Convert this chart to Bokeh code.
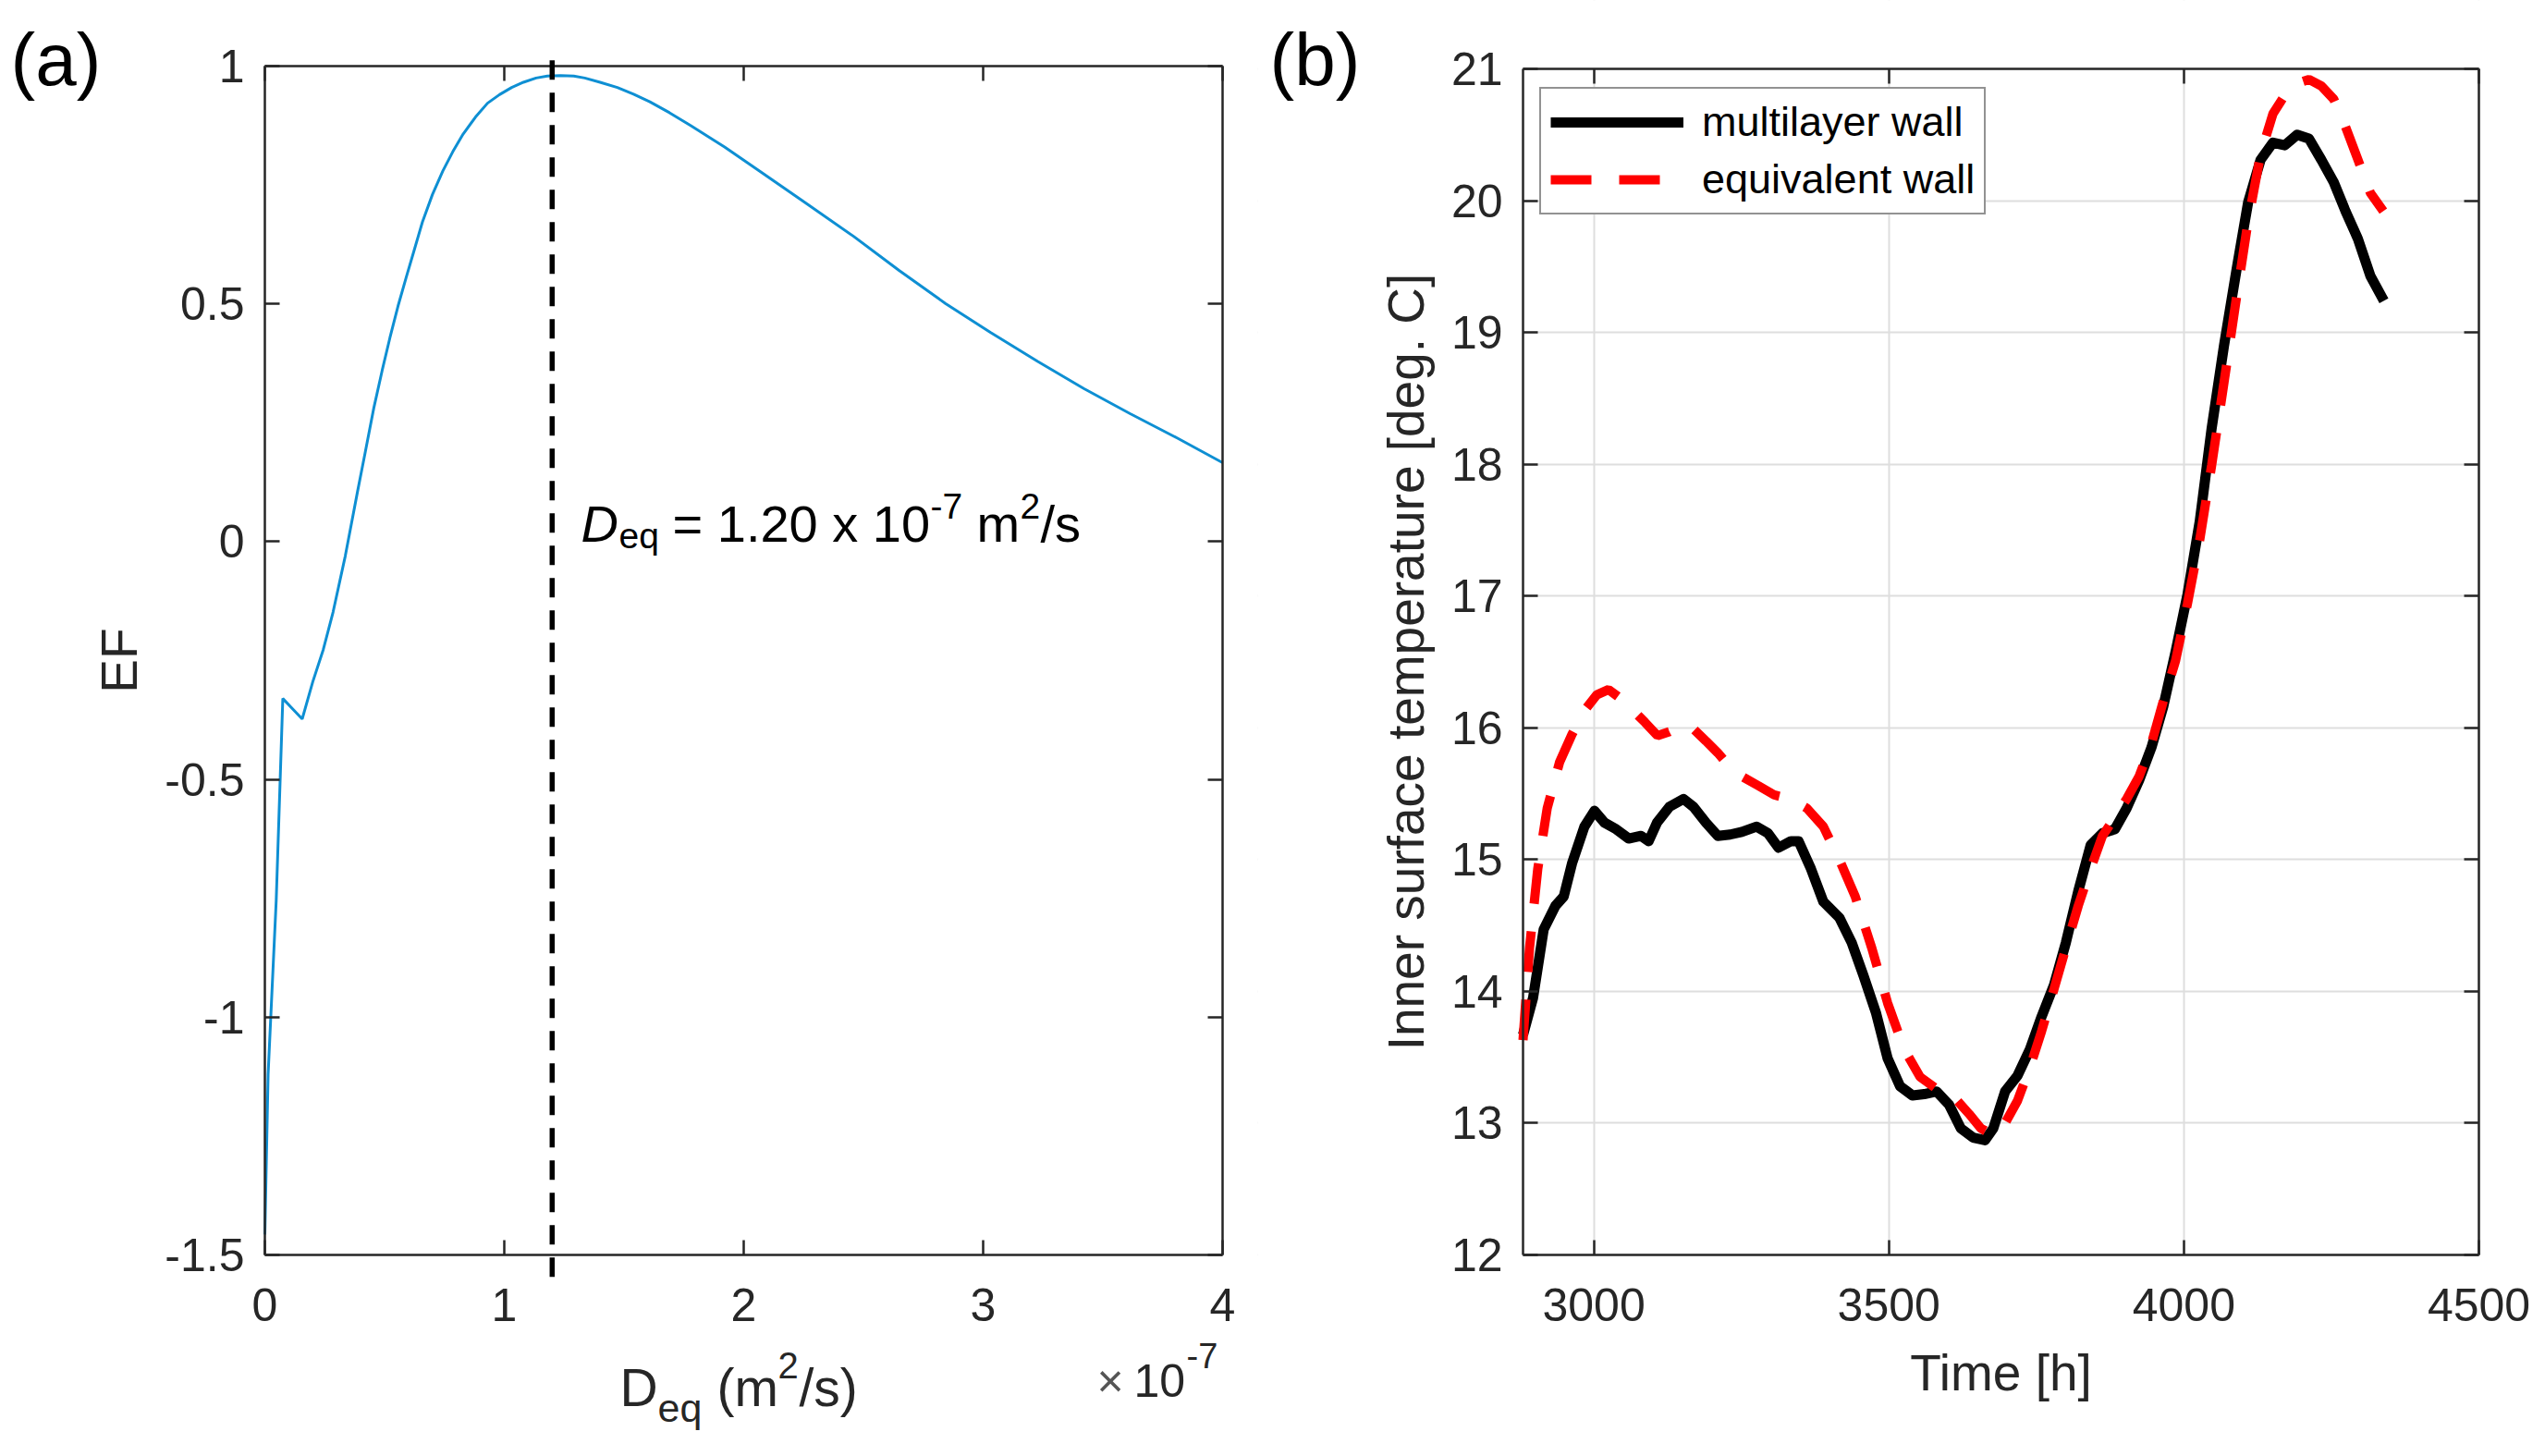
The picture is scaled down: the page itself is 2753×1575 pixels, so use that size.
from bokeh.plotting import figure
from bokeh.layouts import row
from bokeh.models import (FixedTicker, LinearAxis, Label, Arrow, Legend, LegendItem,
                          Range1d, CustomJSTickFormatter, BoxAnnotation)
from bokeh.embed import file_html
from bokeh.resources import INLINE

FONT = "Liberation Sans"
AX = "#262626"

# ---------------- data: panel (a) ----------------
deq_scale_label = "-7"          # x values are in units of 1e-7 m2/s
deq = [0.0, 0.0136, 0.0475, 0.075, 0.156, 0.2, 0.244, 0.285, 0.336, 0.387, 0.42, 0.455,
       0.49, 0.522, 0.556, 0.59, 0.625, 0.658, 0.70, 0.743, 0.785, 0.828, 0.88, 0.93,
       0.98, 1.031, 1.08, 1.133, 1.18, 1.235, 1.29, 1.336, 1.40, 1.472, 1.54, 1.608,
       1.69, 1.778, 1.92, 2.07, 2.25, 2.456, 2.65, 2.842, 3.03, 3.228, 3.42, 3.614,
       3.81, 4.0]
ef = [-1.457, -1.12, -0.754, -0.33, -0.373, -0.295, -0.227, -0.148, -0.03, 0.105, 0.19,
      0.281, 0.36, 0.428, 0.495, 0.555, 0.615, 0.672, 0.73, 0.779, 0.82, 0.857, 0.893,
      0.922, 0.94, 0.955, 0.966, 0.975, 0.979, 0.98, 0.979, 0.975, 0.966, 0.955, 0.941,
      0.925, 0.902, 0.875, 0.83, 0.778, 0.715, 0.643, 0.57, 0.501, 0.44, 0.379, 0.322,
      0.269, 0.218, 0.166]
deq_opt = 1.20
a_xlim = (0, 4)
a_ylim = (-1.5, 1)
a_xticks = [0, 1, 2, 3, 4]
a_yticks = [-1.5, -1, -0.5, 0, 0.5, 1]

# ---------------- data: panel (b) ----------------
time_ml = [2880, 2897, 2915, 2935, 2949, 2963, 2984, 3001, 3018, 3038, 3059, 3080, 3093,
           3107, 3128, 3152, 3169, 3190, 3210, 3231, 3251, 3276, 3295, 3313, 3334, 3347,
           3368, 3389, 3416, 3437, 3457, 3478, 3498, 3519, 3540, 3560, 3581, 3602, 3622,
           3643, 3663, 3677, 3697, 3718, 3739, 3759, 3780, 3800, 3821, 3842, 3862, 3883,
           3903, 3924, 3945, 3965, 3986, 4006, 4027, 4047, 4068, 4089, 4109, 4130, 4151,
           4171, 4192, 4212, 4233, 4254, 4274, 4295, 4316, 4339]
temp_ml = [13.67, 13.95, 14.47, 14.65, 14.72, 14.97, 15.25, 15.37, 15.28, 15.23, 15.16,
           15.18, 15.14, 15.28, 15.40, 15.46, 15.40, 15.28, 15.18, 15.19, 15.21, 15.25,
           15.20, 15.09, 15.14, 15.14, 14.93, 14.68, 14.56, 14.37, 14.12, 13.84, 13.49,
           13.28, 13.21, 13.22, 13.24, 13.14, 12.96, 12.89, 12.87, 12.96, 13.24, 13.36,
           13.56, 13.81, 14.05, 14.37, 14.76, 15.11, 15.20, 15.23, 15.39, 15.60, 15.85,
           16.16, 16.58, 17.01, 17.57, 18.27, 18.90, 19.47, 19.99, 20.31, 20.44, 20.42,
           20.50, 20.47, 20.31, 20.14, 19.92, 19.71, 19.43, 19.24]
time_eq = [2880, 2891, 2905, 2921, 2942, 2963, 2984, 3005, 3025, 3046, 3067, 3087, 3108,
           3128, 3149, 3169, 3190, 3210, 3231, 3251, 3279, 3306, 3334, 3361, 3389, 3416,
           3443, 3471, 3498, 3526, 3553, 3581, 3608, 3636, 3656, 3677, 3697, 3718, 3739,
           3759, 3780, 3800, 3821, 3842, 3862, 3883, 3903, 3924, 3945, 3965, 3986, 4006,
           4027, 4047, 4068, 4089, 4109, 4130, 4151, 4171, 4192, 4212, 4233, 4254, 4274,
           4295, 4316, 4338]
temp_eq = [13.63, 14.33, 14.93, 15.39, 15.74, 15.95, 16.13, 16.25, 16.29, 16.22, 16.13,
           16.04, 15.94, 15.97, 16.02, 15.99, 15.90, 15.81, 15.70, 15.63, 15.56, 15.49,
           15.46, 15.39, 15.25, 15.00, 14.72, 14.33, 13.91, 13.56, 13.35, 13.26, 13.21,
           13.07, 12.96, 12.91, 13.00, 13.17, 13.42, 13.70, 14.02, 14.33, 14.65, 14.93,
           15.18, 15.32, 15.46, 15.63, 15.88, 16.20, 16.51, 16.94, 17.43, 17.99, 18.62,
           19.26, 19.85, 20.35, 20.66, 20.80, 20.89, 20.92, 20.87, 20.77, 20.56, 20.31,
           20.06, 19.92]
b_xlim = (2880, 4500)
b_ylim = (12, 21)
b_xticks = [3000, 3500, 4000, 4500]
b_yticks = [12, 13, 14, 15, 16, 17, 18, 19, 20, 21]
series_names = ["multilayer wall", "equivalent wall"]

# ---------------- layout (page pixels) ----------------
H = 1567
W1, W2 = 1360, 1385
BOX_A = (286, 1322, 71, 1357)      # left, right, top, bottom of axes box (page px)
BOX_B = (1647, 2681, 74, 1357)
CX_A, CX_B = 0, W1                 # canvas x-origin on page
YFIX = -21                         # empirical baseline correction for labels
XLAB_DROP = 30                     # px between box bottom and x tick-label axis

TICK_FS = "50px"
LABEL_FS = "55px"
fmt = CustomJSTickFormatter(code="return tick.toString();")
blank = CustomJSTickFormatter(code="return '';")


def ranges_for(box, cx0, w, xlim, ylim):
    l, r, t, b = box
    kx = (r - l) / (xlim[1] - xlim[0])
    ky = (b - t) / (ylim[1] - ylim[0])
    xr = Range1d(xlim[0] - (l - cx0) / kx, xlim[1] + (cx0 + w - r) / kx)
    yr = Range1d(ylim[0] - (H - b) / ky, ylim[1] + t / ky)
    return xr, yr, ky


def style_axis(ax, ticks, bounds, loc, labels=True):
    ax.ticker = FixedTicker(ticks=ticks)
    ax.bounds = bounds
    ax.fixed_location = loc
    ax.axis_line_color = AX
    ax.axis_line_width = 2.5
    ax.major_tick_line_color = AX
    ax.major_tick_line_width = 2.5
    ax.major_tick_in = 16
    ax.major_tick_out = 0
    ax.minor_tick_line_color = None
    ax.major_label_text_font = FONT
    ax.major_label_text_color = AX
    ax.axis_label_text_font = FONT
    ax.axis_label_text_font_size = LABEL_FS
    ax.axis_label_text_font_style = "normal"
    ax.axis_label_text_color = AX
    ax.axis_label_standoff = 15
    if labels:
        ax.formatter = fmt
        ax.major_label_text_font_size = TICK_FS
    else:
        ax.formatter = blank
        ax.major_label_text_font_size = "1px"
        ax.major_label_standoff = 0


def make_fig(w, box, cx0, xlim, ylim, xt, yt):
    xr, yr, ky = ranges_for(box, cx0, w, xlim, ylim)
    p = figure(width=w, height=H, x_range=xr, y_range=yr, output_backend="svg",
               toolbar_location=None, min_border=0)
    p.outline_line_color = None
    p.background_fill_color = "white"
    p.border_fill_color = "white"
    style_axis(p.xaxis[0], xt, xlim, ylim[0], labels=False)
    style_axis(p.yaxis[0], yt, ylim, xlim[0])
    p.yaxis[0].major_label_standoff = 22
    # tick-label-only axis for x, set slightly below the box
    xlab = LinearAxis()
    style_axis(xlab, xt, xlim, ylim[0] - XLAB_DROP / ky)
    xlab.axis_line_color = None
    xlab.major_tick_line_color = None
    xlab.major_label_standoff = 6
    p.add_layout(xlab, "below")
    top = LinearAxis()
    right = LinearAxis()
    style_axis(top, xt, xlim, ylim[1], labels=False)
    style_axis(right, yt, ylim, xlim[1], labels=False)
    p.add_layout(top, "above")
    p.add_layout(right, "right")
    return p


def txt(p, cx0, s, px, py, size, color="black", style="normal", align="left"):
    p.add_layout(Label(x=px - cx0, y=H - (py + YFIX), x_units="screen", y_units="screen",
                       text=s, text_font=FONT, text_font_size=f"{size}px",
                       text_color=color, text_font_style=style, text_align=align,
                       text_baseline="alphabetic"))


# ---------------- panel (a) ----------------
p1 = make_fig(W1, BOX_A, CX_A, a_xlim, a_ylim, a_xticks, a_yticks)
p1.grid.visible = False
p1.yaxis[0].axis_label = "EF"

p1.line(deq, ef, line_color="#0e8fd3", line_width=3)
p1.add_layout(Arrow(end=None, x_start=deq_opt, y_start=a_ylim[1] + 0.012, x_end=deq_opt,
                    y_end=a_ylim[0] - 0.06, line_color="black", line_width=5.5,
                    line_dash="21 14"))

# annotation  D_eq = 1.20 x 10^-7 m^2/s
F, FS = 56, 39
ax0, ay0 = 628, 587
txt(p1, CX_A, "D", ax0, ay0, F, style="italic")
txt(p1, CX_A, "eq", ax0 + 41, ay0 + 13, FS)
txt(p1, CX_A, "= 1.20 x 10", ax0 + 99, ay0, F)
txt(p1, CX_A, deq_scale_label, ax0 + 378, ay0 - 19, FS)
txt(p1, CX_A, "m", ax0 + 428, ay0, F)
txt(p1, CX_A, "2", ax0 + 475, ay0 - 19, FS)
txt(p1, CX_A, "/s", ax0 + 497, ay0, F)

# x-axis label  D_eq (m^2/s)
LF, LS = 57, 43
lx0, ly0 = 670, 1521
txt(p1, CX_A, "D", lx0, ly0, LF, color=AX)
txt(p1, CX_A, "eq", lx0 + 41, ly0 + 22, LS, color=AX)
txt(p1, CX_A, "(m", lx0 + 105, ly0, LF, color=AX)
txt(p1, CX_A, "2", lx0 + 171, ly0 - 24, 40, color=AX)
txt(p1, CX_A, "/s)", lx0 + 194, ly0, LF, color=AX)

# exponent  x10^-7
txt(p1, CX_A, "\u00d7", 1186, 1514, 50, color="#555555")
txt(p1, CX_A, "10", 1226, 1514, 50, color=AX)
txt(p1, CX_A, deq_scale_label, 1283, 1487, 38, color=AX)

# panel letter
txt(p1, CX_A, "(a)", 11, 85, 80)

# ---------------- panel (b) ----------------
p2 = make_fig(W2, BOX_B, CX_B, b_xlim, b_ylim, b_xticks, b_yticks)
p2.yaxis[0].axis_label = "Inner surface temperature [deg. C]"
txt(p2, CX_B, "Time [h]", (BOX_B[0] + BOX_B[1]) / 2, 1505, 55, color=AX, align="center")
for g, t in ((p2.xgrid[0], b_xticks), (p2.ygrid[0], b_yticks)):
    g.ticker = FixedTicker(ticks=t)
    g.grid_line_color = "#dedede"
    g.grid_line_width = 2
# keep the grid inside the axes box
for kw in (dict(right=b_xlim[0]), dict(left=b_xlim[1]), dict(bottom=b_ylim[1]),
           dict(top=b_ylim[0])):
    p2.add_layout(BoxAnnotation(fill_color="white", fill_alpha=1.0, line_color=None,
                                level="underlay", **kw))

r_ml = p2.line(time_ml, temp_ml, line_color="black", line_width=11, line_join="round")
r_eq = p2.line(time_eq, temp_eq, line_color="#ff0000", line_width=10, line_dash="44 30")

legend = Legend(items=[LegendItem(label=series_names[0], renderers=[r_ml]),
                       LegendItem(label=series_names[1], renderers=[r_eq])],
                location=(1665 - CX_B, H - 232), orientation="vertical",
                border_line_color=AX, border_line_width=2,
                background_fill_color="white", background_fill_alpha=1.0,
                padding=10, spacing=10, margin=0,
                glyph_width=144, glyph_height=48, label_height=48, label_standoff=20,
                label_text_font=FONT, label_text_font_size="45px",
                label_text_color="black")
p2.add_layout(legend)

txt(p2, CX_B, "(b)", 1373, 85, 80)

layout = row(p1, p2)
open("out.html", "w").write(file_html(layout, INLINE))
